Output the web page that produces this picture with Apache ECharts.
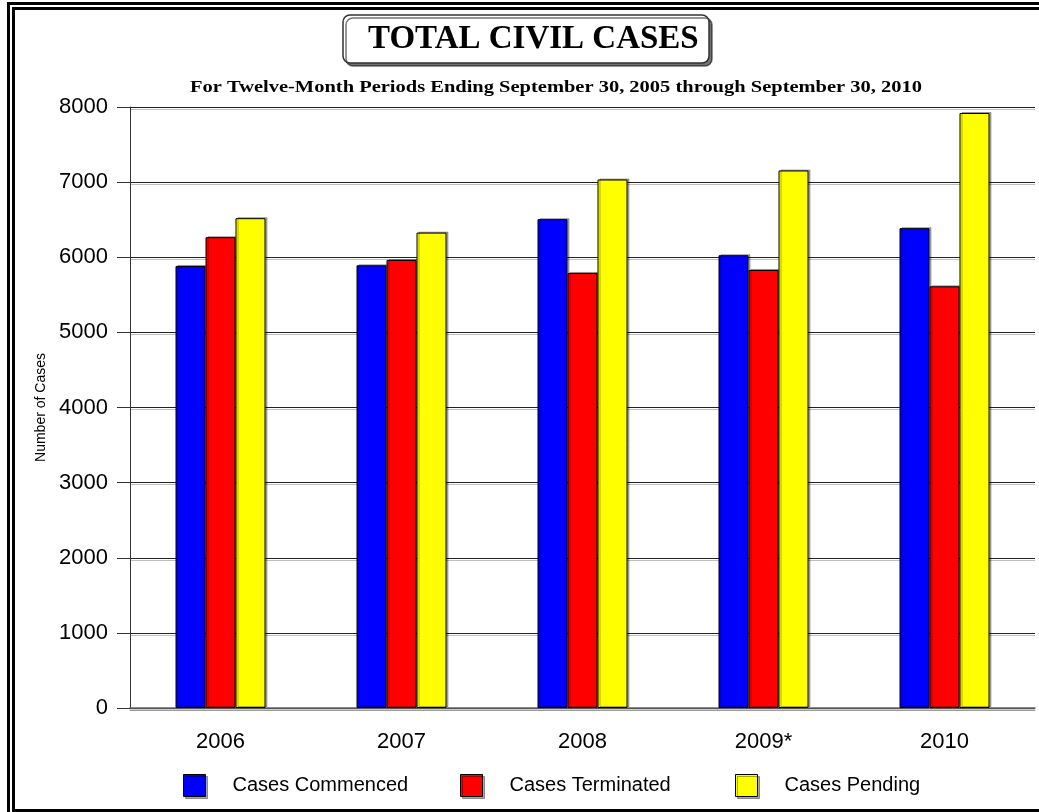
<!DOCTYPE html>
<html>
<head>
<meta charset="utf-8">
<script src="https://cdn.jsdelivr.net/npm/echarts@6/dist/echarts.min.js"></script>
<style>
html,body{margin:0;padding:0;background:#fff;}
#chart{width:1039px;height:812px;}
</style>
</head>
<body>
<div id="chart"></div>
<script>
const categories = ['2006', '2007', '2008', '2009*', '2010'];
const commenced = [5884, 5893, 6507, 6027, 6387];
const terminated = [6267, 5964, 5791, 5831, 5613];
const pending = [6520, 6328, 7035, 7155, 7920];
const seriesNames = ['Cases Commenced', 'Cases Terminated', 'Cases Pending'];
const seriesColors = ['#0000ff', '#ff0000', '#ffff00'];
const yTicks = { min: 0, max: 8000, interval: 1000 };
const titleText = 'TOTAL CIVIL CASES';
const subtitleText = 'For Twelve-Month Periods Ending September 30, 2005 through September 30, 2010';

const chart = echarts.init(document.getElementById('chart'), null, { renderer: 'canvas' });

const barStyle = (c) => ({
  color: c, borderColor: '#000', borderWidth: 1,
  shadowColor: 'rgba(0,0,0,0.3)', shadowOffsetX: 2, shadowOffsetY: -1, shadowBlur: 0
});

const legendBase = (name, left) => ({
  data: [name], left: left, top: 774, padding: 0, itemWidth: 22, itemHeight: 22,
  icon: 'rect', selectedMode: false,
  itemStyle: { borderColor: '#000', borderWidth: 1, shadowColor: 'rgba(0,0,0,0.35)', shadowOffsetX: 2, shadowOffsetY: 2, shadowBlur: 0 },
  textStyle: { fontFamily: 'Liberation Sans, Arial, sans-serif', fontSize: 20, color: '#000', padding: [0, 0, 0, 22] }
});

const option = {
  backgroundColor: '#fff',
  animation: false,
  title: [
    {
      text: titleText,
      left: 343, top: 15,
      padding: [7, 11, 7, 25],
      borderColor: '#333', borderWidth: 1.5, borderRadius: 7,
      backgroundColor: '#fff',
      shadowColor: 'rgba(0,0,0,0.55)', shadowOffsetX: 3, shadowOffsetY: 3, shadowBlur: 0,
      textStyle: { fontFamily: 'Liberation Serif, Times New Roman, serif', fontWeight: 'bold', fontSize: 33, color: '#000', lineHeight: 34 }
    }
  ],
  legend: [
    legendBase(seriesNames[0], 183),
    legendBase(seriesNames[1], 460),
    legendBase(seriesNames[2], 735)
  ],
  grid: { left: 130, right: 4, top: 107, bottom: 104, containLabel: false },
  xAxis: {
    type: 'category', data: categories,
    axisLine: { lineStyle: { color: '#666', width: 1.5, shadowColor: 'rgba(0,0,0,0.25)', shadowOffsetY: 2 } },
    axisTick: { alignWithLabel: true, length: 13, lineStyle: { color: '#333' } },
    axisLabel: { margin: 23, fontFamily: 'Liberation Sans, Arial, sans-serif', fontSize: 22, color: '#000' }
  },
  yAxis: {
    type: 'value', min: yTicks.min, max: yTicks.max, interval: yTicks.interval,
    name: 'Number of Cases', nameLocation: 'middle', nameGap: 70, nameRotate: 90,
    nameTextStyle: { fontFamily: 'Liberation Sans, Arial, sans-serif', fontSize: 14, color: '#000' },
    axisLine: { show: true, lineStyle: { color: '#333' } },
    axisTick: { show: true, length: 13, lineStyle: { color: '#333' } },
    axisLabel: { margin: 22, fontFamily: 'Liberation Sans, Arial, sans-serif', fontSize: 22, color: '#000', formatter: (v) => String(v) },
    splitLine: { show: true, lineStyle: { color: '#222', width: 1.2, shadowColor: 'rgba(0,0,0,0.25)', shadowOffsetY: 2, shadowBlur: 0 } }
  },
  series: [
    { name: seriesNames[0], type: 'bar', data: commenced, barWidth: 30, barGap: '0%', itemStyle: barStyle(seriesColors[0]) },
    { name: seriesNames[1], type: 'bar', data: terminated, barWidth: 30, barGap: '0%', itemStyle: barStyle(seriesColors[1]) },
    { name: seriesNames[2], type: 'bar', data: pending, barWidth: 30, barGap: '0%', itemStyle: barStyle(seriesColors[2]) }
  ],
  graphic: [
    {
      type: 'text', x: 556, y: 88, scaleX: 1.28, z: 50,
      style: { text: subtitleText, font: 'bold 16px "Liberation Serif", "Times New Roman", serif', fill: '#000', align: 'center', verticalAlign: 'middle' }
    },
    { type: 'polyline', shape: { points: [[8.5, 812], [8.5, 3.5], [1039, 3.5]] }, style: { stroke: '#000', lineWidth: 3, fill: null }, z: 100 },
    { type: 'polyline', shape: { points: [[1039, 810.5], [13.5, 810.5], [13.5, 8.5], [1039, 8.5]] }, style: { stroke: '#000', lineWidth: 3, fill: null }, z: 100 }
  ]
};
chart.setOption(option);
</script>
</body>
</html>
